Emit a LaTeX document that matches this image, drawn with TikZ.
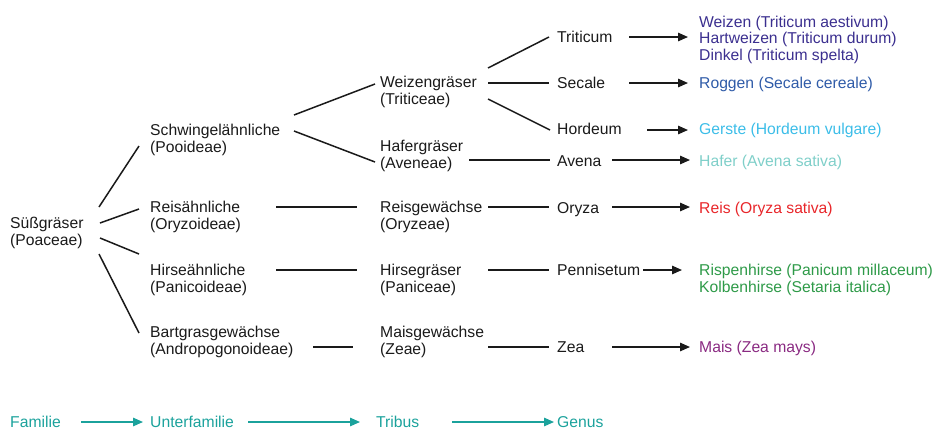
\documentclass[tikz,border=0pt]{standalone}
\usepackage{fontspec}
\setmainfont{Liberation Sans}
\usepackage{tikz}
\usetikzlibrary{arrows.meta}
\definecolor{wheatblue}{HTML}{3B2F8F}
\definecolor{ryeblue}{HTML}{2F5BA8}
\definecolor{barleyblue}{HTML}{3BBDE8}
\definecolor{oatteal}{HTML}{7FCFC9}
\definecolor{ricered}{HTML}{E8262A}
\definecolor{milletgreen}{HTML}{2E9A48}
\definecolor{maizepurple}{HTML}{8A2A82}
\definecolor{rankteal}{HTML}{1BA29C}
\definecolor{inkgray}{HTML}{1A1A1A}

\begin{document}
\begin{tikzpicture}[x=1pt,y=-1pt,
  t/.style={anchor=base west,inner sep=0pt,align=left,text=inkgray,
            font=\fontsize{15.7}{17}\selectfont},
  sp/.style={t,font=\fontsize{15.7}{16.7}\selectfont},
  l/.style={inkgray,line width=1.5pt},
  a/.style={l,-{Triangle[length=10pt,width=8.5pt]}},
  ra/.style={rankteal,line width=1.5pt,-{Triangle[length=10pt,width=8.5pt]}}]
\useasboundingbox (0,0) rectangle (938,429);
% Familie (base = last line)
\node[t] (sg) at (10,245) {Süßgräser\\(Poaceae)};
% Unterfamilie
\node[t] (sw) at (150,152) {Schwingelähnliche\\(Pooideae)};
\node[t] (ra) at (150,229) {Reisähnliche\\(Oryzoideae)};
\node[t] (ha) at (150,292) {Hirseähnliche\\(Panicoideae)};
\node[t] (bg) at (150,354) {Bartgrasgewächse\\(Andropogonoideae)};
% Tribus
\node[t] (wg) at (380,104) {Weizengräser\\(Triticeae)};
\node[t] (hg) at (380,168) {Hafergräser\\(Aveneae)};
\node[t] (rg) at (380,229) {Reisgewächse\\(Oryzeae)};
\node[t] (hig) at (380,292) {Hirsegräser\\(Paniceae)};
\node[t] (mg) at (380,354) {Maisgewächse\\(Zeae)};
% Genus
\node[t] (tri) at (557,42) {Triticum};
\node[t] (sec) at (557,88) {Secale};
\node[t] (hor) at (557,134) {Hordeum};
\node[t] (ave) at (557,166) {Avena};
\node[t] (ory) at (557,213) {Oryza};
\node[t] (pen) at (557,275) {Pennisetum};
\node[t] (zea) at (557,352) {Zea};
% Arten
\node[sp,text=wheatblue] (weizen) at (699,60.4)
  {Weizen (Triticum aestivum)\\Hartweizen (Triticum durum)\\Dinkel (Triticum spelta)};
\node[sp,text=ryeblue] (roggen) at (699,88) {Roggen (Secale cereale)};
\node[sp,text=barleyblue] (gerste) at (699,134) {Gerste (Hordeum vulgare)};
\node[sp,text=oatteal] (hafer) at (699,166) {Hafer (Avena sativa)};
\node[sp,text=ricered] (reis) at (699,213) {Reis (Oryza sativa)};
\node[t,text=milletgreen] (hirse) at (699,292)
  {Rispenhirse (Panicum millaceum)\\Kolbenhirse (Setaria italica)};
\node[sp,text=maizepurple] (mais) at (699,352) {Mais (Zea mays)};
% Rangstufen
\node[t,text=rankteal] (fam) at (10,427) {Familie};
\node[t,text=rankteal] (ufam) at (150,427) {Unterfamilie};
\node[t,text=rankteal] (trib) at (376,427) {Tribus};
\node[t,text=rankteal] (gen) at (557,427) {Genus};

% Verzweigungen
\draw[l] ([shift={(89,-38)}]sg.base west) -- ([shift={(-11,-6)}]sw.base west);
\draw[l] ([shift={(90,-22)}]sg.base west) -- ([shift={(-11,-20)}]ra.base west);
\draw[l] ([shift={(90,-7)}]sg.base west) -- ([shift={(-11,-38)}]ha.base west);
\draw[l] ([shift={(89,9)}]sg.base west) -- ([shift={(-11,-21)}]bg.base west);
\draw[l] ([shift={(144,-37)}]sw.base west) -- ([shift={(-5,-20)}]wg.base west);
\draw[l] ([shift={(144,-21)}]sw.base west) -- ([shift={(-5,-6)}]hg.base west);
\draw[l] ([shift={(126,-22)}]ra.base west) -- ([shift={(-23,-22)}]rg.base west);
\draw[l] ([shift={(126,-22)}]ha.base west) -- ([shift={(-23,-22)}]hig.base west);
\draw[l] ([shift={(163,-7)}]bg.base west) -- ([shift={(-27,-7)}]mg.base west);
\draw[l] ([shift={(108,-36)}]wg.base west) -- ([shift={(-8,-5)}]tri.base west);
\draw[l] ([shift={(108,-21)}]wg.base west) -- ([shift={(-8,-5)}]sec.base west);
\draw[l] ([shift={(108,-5)}]wg.base west) -- ([shift={(-7,-4)}]hor.base west);
\draw[l] ([shift={(89,-8)}]hg.base west) -- ([shift={(-7,-6)}]ave.base west);
\draw[l] ([shift={(108,-22)}]rg.base west) -- ([shift={(-8,-6)}]ory.base west);
\draw[l] ([shift={(108,-22)}]hig.base west) -- ([shift={(-8,-5)}]pen.base west);
\draw[l] ([shift={(108,-7)}]mg.base west) -- ([shift={(-8,-5)}]zea.base west);
% Pfeile zu den Arten
\draw[a] ([shift={(72,-5)}]tri.base west) -- ([shift={(-11,-23.4)}]weizen.base west);
\draw[a] ([shift={(72,-5)}]sec.base west) -- ([shift={(-11,-5)}]roggen.base west);
\draw[a] ([shift={(90,-4)}]hor.base west) -- ([shift={(-11,-4)}]gerste.base west);
\draw[a] ([shift={(55,-6)}]ave.base west) -- ([shift={(-9,-6)}]hafer.base west);
\draw[a] ([shift={(55,-6)}]ory.base west) -- ([shift={(-9,-6)}]reis.base west);
\draw[a] ([shift={(86,-5)}]pen.base west) -- ([shift={(-17,-22)}]hirse.base west);
\draw[a] ([shift={(55,-5)}]zea.base west) -- ([shift={(-9,-5)}]mais.base west);
% Rangstufen
\draw[ra] ([shift={(71,-5)}]fam.base west) -- ([shift={(-7,-5)}]ufam.base west);
\draw[ra] ([shift={(98,-5)}]ufam.base west) -- ([shift={(-16,-5)}]trib.base west);
\draw[ra] ([shift={(76,-5)}]trib.base west) -- ([shift={(-3,-5)}]gen.base west);
\end{tikzpicture}
\end{document}
